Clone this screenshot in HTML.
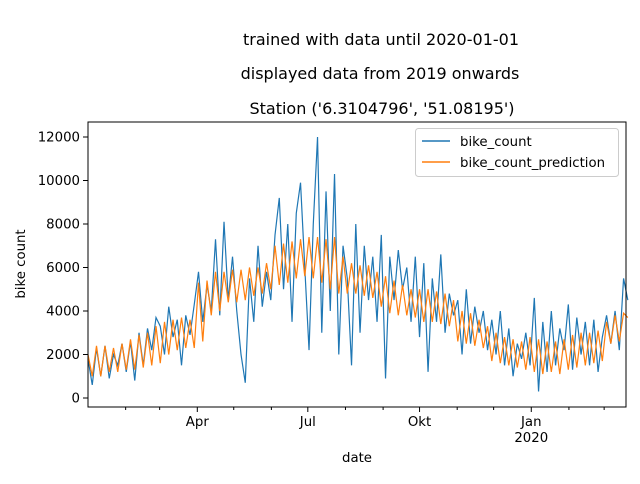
<!DOCTYPE html>
<html><head><meta charset="utf-8"><style>
body{margin:0;background:#fff;font-family:"DejaVu Sans","Liberation Sans",sans-serif}
</style></head><body>
<svg id="c" width="640" height="480" xmlns="http://www.w3.org/2000/svg" font-family="DejaVu Sans, Liberation Sans, sans-serif">
<rect width="640" height="480" fill="#fff"/>
<text x="381" y="45" font-size="16" text-anchor="middle">trained with data until 2020-01-01</text>
<text x="380" y="79" font-size="16" text-anchor="middle">displayed data from 2019 onwards</text>
<text x="382" y="114" font-size="16" text-anchor="middle">Station ('6.3104796', '51.08195')</text>
<g id="plot"></g>
<rect x="88" y="122" width="538" height="285" fill="none" stroke="#000" stroke-width="1"/>
<text x="357" y="462" font-size="13.3" text-anchor="middle">date</text>
<text x="25" y="264" font-size="13.3" text-anchor="middle" transform="rotate(-90 25 264)">bike count</text>
<g>
<rect x="415.5" y="128.5" width="203" height="48" rx="3" fill="#fff" fill-opacity="0.8" stroke="#ccc"/>
<line x1="422" y1="141" x2="450" y2="141" stroke="#1f77b4" stroke-width="1.5"/>
<text x="460" y="146" font-size="13.3">bike_count</text>
<line x1="422" y1="162" x2="450" y2="162" stroke="#ff7f0e" stroke-width="1.5"/>
<text x="460" y="167" font-size="13.3">bike_count_prediction</text>
</g>
</svg>
<script>
const bikeCount=[1800,600,2300,1000,2400,900,2000,1500,2500,
1200,2600,800,3000,1500,3200,2200,3700,
3300,2000,4200,2800,3600,1500,3800,2900,4300,
5800,3500,5200,4000,7300,3800,8100,4500,6500,
4000,2000,700,5500,3500,7000,4200,5800,
4500,7500,9200,5000,8000,3500,8500,9900,6000,
2200,8000,12000,3000,9500,4000,10300,2000,7000,
5500,1500,8000,3000,7000,4500,6500,3500,
7500,900,6500,4500,6800,5000,6000,3500,6500,
2800,6200,1200,5500,3500,6600,3000,4800,3800,
4500,2000,5000,2500,4200,3000,4000,2200,
3600,2000,4000,1500,3200,1000,2500,1800,3000,
1500,4600,300,3500,1200,4000,1500,3200,2200,
4300,1300,3700,2000,3500,1500,3600,1200,2800,
3800,2500,4000,2200,5500,4500];
const bikePred=[2000,1000,2400,1000,2400,1200,2300,1200,2500,
1300,2700,1300,2900,1400,3000,1500,3300,
1600,3500,2000,3600,2200,3700,2300,3600,2300,
5300,2600,5400,3800,5800,4000,5800,4400,5900,
4400,5900,4500,6000,4700,6000,4800,6200,
5000,7000,5200,7100,5300,7200,5500,7300,5600,
7400,5500,7400,5300,7300,5000,7400,4800,6500,
4800,6200,4800,6100,4700,6100,4600,5800,
4200,5600,3900,5400,3800,5200,3800,5000,3700,
5000,3500,5000,3500,4900,3400,4800,3300,4500,
2600,4000,2500,3900,2400,3600,2300,3300,
1700,3000,1600,2800,1500,2700,1400,2600,1300,
2800,1200,2700,1100,2600,1200,2600,1100,2700,
1300,2900,1400,3000,1500,3000,1600,3100,1700,
3500,2500,3800,2600,3900,3700];
const yTicks=[0,2000,4000,6000,8000,10000,12000];
const majorDays=[90,181,273,365];
const majorLabels=["Apr","Jul","Okt","Jan"];
const minorDays=[31,59,120,151,212,243,304,334,396,425];
const startDate=new Date(2019,0,1);
const dates=bikeCount.map((_,i)=>new Date(startDate.getTime()+i*3.5*86400000));

const X0=88,X1=626,DAYS=443;
const xs=d=>X0+(d-startDate)/86400000*(X1-X0)/DAYS;
const xd=day=>X0+day*(X1-X0)/DAYS;
const ys=v=>398-v*(398-137)/12000;
const NS="http://www.w3.org/2000/svg";
const g=document.getElementById('plot');
function mk(t,a){const e=document.createElementNS(NS,t);for(const k in a)e.setAttribute(k,a[k]);g.appendChild(e);return e;}
yTicks.forEach(v=>{
 const l=mk('line',{x1:83,x2:88,y1:ys(v),y2:ys(v),stroke:'#000'});
 
 
 const t=mk('text',{x:80,y:ys(v)+4.5,'font-size':13.3,'text-anchor':'end'});t.textContent=v;
 
 
});
majorDays.forEach((d,i)=>{
 const l=mk('line',{x1:xd(d),x2:xd(d),y1:407,y2:412,stroke:'#000'});
 
 
 const t=mk('text',{x:xd(d),y:426,'font-size':13.3,'text-anchor':'middle'});t.textContent=majorLabels[i];
 
 
});
const y2=mk('text',{x:xd(365),y:442,'font-size':13.3,'text-anchor':'middle'});y2.textContent='2020';


minorDays.forEach(d=>{
 const l=mk('line',{x1:xd(d),x2:xd(d),y1:407,y2:410,stroke:'#000'});
 
 
});
const p1=mk('polyline',{points:bikeCount.map((v,i)=>xs(dates[i])+','+ys(v)).join(' '),fill:'none',stroke:'#1f77b4','stroke-width':1.2});


const p2=mk('polyline',{points:bikePred.map((v,i)=>xs(dates[i])+','+ys(v)).join(' '),fill:'none',stroke:'#ff7f0e','stroke-width':1.2});


</script>
</body></html>
